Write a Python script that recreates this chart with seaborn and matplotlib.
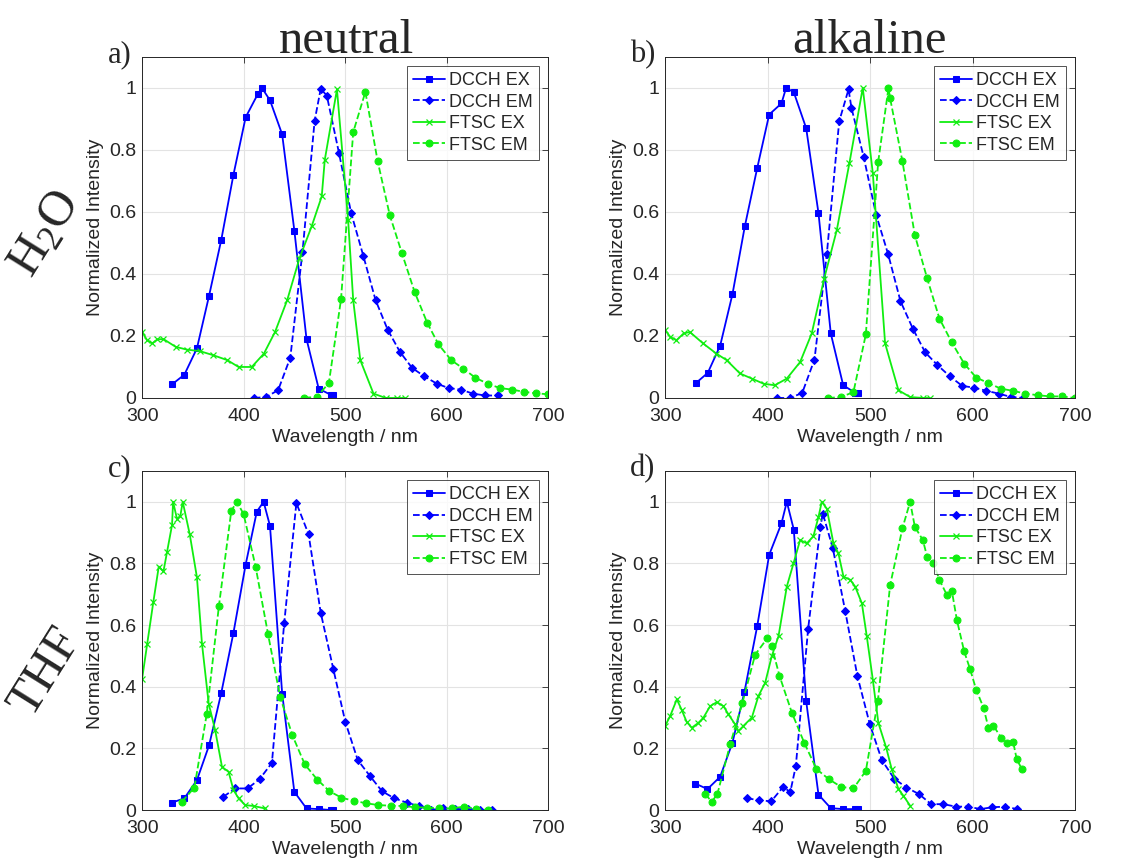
import numpy as np
import pandas as pd
import seaborn as sns
import matplotlib.pyplot as plt

# ---- data (wavelength nm, normalized intensity) ----
# panel a) H2O neutral
a_dcch_ex_x = [329.5, 341.6, 354, 366, 378, 390, 402, 414, 418, 426, 438, 450, 462, 474, 486, 488]
a_dcch_ex_y = [0.044, 0.075, 0.16, 0.33, 0.51, 0.72, 0.905, 0.98, 1.0, 0.96, 0.85, 0.54, 0.19, 0.03, 0.01, 0.008]
a_dcch_em_x = [410, 422, 434, 446, 458, 470, 476, 482, 494, 506, 518, 530, 542, 554, 566, 578, 590.5, 602, 614, 626, 638, 650.5]
a_dcch_em_y = [0, 0.003, 0.025, 0.13, 0.47, 0.894, 0.997, 0.975, 0.79, 0.596, 0.458, 0.316, 0.22, 0.149, 0.097, 0.07, 0.046, 0.032, 0.027, 0.014, 0.008, 0.008]
a_ftsc_ex_x = [300, 305, 310, 315, 321, 333, 344, 357, 370, 384, 395, 408, 420, 431, 443, 455, 467, 477, 480, 492, 503, 508, 515, 528, 540, 551, 559]
a_ftsc_ex_y = [0.213, 0.186, 0.176, 0.189, 0.19, 0.165, 0.156, 0.151, 0.138, 0.122, 0.10, 0.10, 0.143, 0.213, 0.316, 0.45, 0.553, 0.65, 0.768, 0.995, 0.574, 0.316, 0.122, 0.014, 0, 0, 0]
a_ftsc_em_x = [460, 472, 484, 496, 508, 520, 532, 544, 556, 568.5, 581, 592, 604.6, 616.4, 628.5, 640.6, 652.5, 664.6, 676, 688, 700]
a_ftsc_em_y = [0.001, 0.003, 0.048, 0.318, 0.857, 0.987, 0.765, 0.59, 0.467, 0.342, 0.242, 0.173, 0.122, 0.095, 0.065, 0.046, 0.032, 0.027, 0.02, 0.015, 0.012]

# panel b) H2O alkaline
b_dcch_ex_x = [330, 341.6, 353.7, 365.7, 377.7, 389.8, 401.5, 413.5, 418, 425.5, 437.6, 449.6, 461.6, 473.7, 485.7, 488]
b_dcch_ex_y = [0.048, 0.081, 0.169, 0.335, 0.553, 0.741, 0.914, 0.95, 1.0, 0.986, 0.87, 0.596, 0.208, 0.041, 0.016, 0.015]
b_dcch_em_x = [409.6, 421.6, 433.7, 445.7, 457.7, 469.8, 478.9, 481.8, 493.8, 505.9, 517.6, 529.6, 541.6, 553.7, 565.7, 577.7, 589.8, 601.8, 613.5, 625.5, 637.6, 649.6]
b_dcch_em_y = [0, 0, 0.016, 0.124, 0.463, 0.892, 0.995, 0.935, 0.776, 0.59, 0.463, 0.312, 0.224, 0.147, 0.106, 0.07, 0.039, 0.033, 0.023, 0.014, 0.003, 0]
b_ftsc_ex_x = [300, 305, 311, 318, 324, 337, 350, 360, 373, 384.6, 396, 407, 418.7, 431.7, 443, 455, 467.5, 479.8, 492.8, 502.6, 514.6, 527.6, 539, 552, 558]
b_ftsc_ex_y = [0.219, 0.197, 0.186, 0.208, 0.213, 0.176, 0.143, 0.122, 0.079, 0.0625, 0.046, 0.041, 0.0625, 0.116, 0.208, 0.383, 0.542, 0.758, 1.0, 0.725, 0.176, 0.025, 0.003, 0, 0]
b_ftsc_em_x = [459, 471.7, 483.7, 495.8, 507.8, 517.9, 519.5, 531.5, 543.6, 555.6, 567.6, 579.7, 591.7, 603.4, 615.4, 627.5, 639.5, 651.5, 663.6, 675.6, 687.6, 699.7]
b_ftsc_em_y = [0, 0.003, 0.019, 0.205, 0.76, 1.0, 0.966, 0.763, 0.525, 0.386, 0.256, 0.179, 0.111, 0.066, 0.048, 0.03, 0.023, 0.014, 0.009, 0.005, 0.005, 0.0]

# panel c) THF neutral
c_dcch_ex_x = [329.5, 341.6, 354, 366, 378, 390, 402, 413, 419.7, 426, 438, 450, 462, 474, 486, 488]
c_dcch_ex_y = [0.024, 0.038, 0.097, 0.21, 0.38, 0.575, 0.796, 0.968, 1.0, 0.922, 0.378, 0.059, 0.005, 0.003, 0, 0]
c_dcch_em_x = [380, 391.8, 403.9, 415.7, 427.9, 440, 452, 464, 476, 488.5, 500.3, 512.5, 524.6, 536.4, 548.5, 560.7, 572.5, 584.6, 596.7, 608.5, 620.7, 632.8, 645]
c_dcch_em_y = [0.043, 0.07, 0.07, 0.1, 0.153, 0.606, 0.996, 0.895, 0.64, 0.456, 0.285, 0.162, 0.11, 0.061, 0.038, 0.024, 0.013, 0, 0.005, 0.003, 0.003, 0, 0]
c_ftsc_ex_x = [300, 305, 311, 316.4, 321, 324.6, 329.5, 330.5, 334.4, 337.7, 340, 346.9, 354, 359, 365.6, 372, 378.7, 385.2, 390, 395, 401.6, 409.8, 421.3]
c_ftsc_ex_y = [0.426, 0.539, 0.674, 0.79, 0.774, 0.838, 0.925, 1.0, 0.944, 0.955, 1.0, 0.895, 0.755, 0.539, 0.345, 0.259, 0.14, 0.124, 0.065, 0.038, 0.016, 0.013, 0.005]
c_ftsc_em_x = [339.3, 351.5, 363.6, 375.7, 387.9, 393.4, 400, 411.8, 424, 436, 448, 460.3, 472.5, 484.6, 496.4, 508.5, 520.7, 532.8, 545, 556.7, 568.9, 581, 593, 605, 617, 629, 641]
c_ftsc_em_y = [0.027, 0.073, 0.31, 0.663, 0.971, 1.0, 0.96, 0.79, 0.572, 0.367, 0.243, 0.148, 0.099, 0.061, 0.04, 0.03, 0.022, 0.016, 0.014, 0.013, 0.009, 0.008, 0.005, 0.005, 0.011, 0.003, 0]

# panel d) THF alkaline
d_dcch_ex_x = [329.3, 341.3, 353.7, 365.7, 377.4, 389.8, 401.5, 413.5, 418.7, 425.5, 437.6, 449.6, 461.6, 473.7, 485.7, 488]
d_dcch_ex_y = [0.086, 0.068, 0.108, 0.219, 0.384, 0.596, 0.828, 0.93, 1.0, 0.91, 0.353, 0.05, 0.006, 0.003, 0.003, 0.003]
d_dcch_em_x = [379.7, 391.7, 403.4, 415.4, 422, 427.5, 439.5, 451.5, 453.8, 463.6, 475.6, 487.6, 499.7, 511.4, 523.4, 535.4, 547.5, 559.5, 571.5, 583.6, 595.6, 607.6, 619.3, 631.4, 643.4]
d_dcch_em_y = [0.038, 0.032, 0.028, 0.076, 0.057, 0.143, 0.588, 0.919, 0.962, 0.849, 0.647, 0.434, 0.278, 0.162, 0.102, 0.073, 0.052, 0.019, 0.019, 0.011, 0.011, 0.003, 0.009, 0.011, 0.003]
d_ftsc_ex_x = [300, 304.9, 311.4, 316, 321, 326, 332.5, 337.4, 343.9, 350.4, 356.9, 361.8, 368.3, 371.5, 376.4, 384.6, 391, 397.6, 404, 410.6, 418.7, 425.2, 431.7, 438.2, 444.7, 449.6, 452.8, 457.7, 464.2, 469, 474, 480.5, 485.4, 491.9, 496.7, 502.6, 508, 515.6, 521, 527.6, 532.5, 539]
d_ftsc_ex_y = [0.273, 0.305, 0.359, 0.326, 0.286, 0.267, 0.283, 0.3, 0.337, 0.35, 0.337, 0.31, 0.278, 0.256, 0.273, 0.3, 0.37, 0.413, 0.499, 0.564, 0.725, 0.8, 0.876, 0.865, 0.889, 0.951, 1.0, 0.978, 0.865, 0.833, 0.757, 0.747, 0.725, 0.671, 0.564, 0.423, 0.283, 0.203, 0.133, 0.068, 0.046, 0.014]
d_ftsc_em_x = [339, 345.5, 351, 363.4, 375.4, 387.8, 399.8, 404, 411.5, 423.6, 435.6, 447.6, 459.7, 471.7, 483.7, 495.8, 507.5, 519.5, 531.5, 539, 543.6, 551.4, 555.6, 561.8, 567.6, 574.8, 579.7, 584.6, 591.7, 597.6, 603.4, 610.6, 615.4, 620.3, 627.8, 633.3, 639.5, 643, 648]
d_ftsc_em_y = [0.052, 0.027, 0.052, 0.213, 0.348, 0.504, 0.558, 0.531, 0.436, 0.316, 0.219, 0.133, 0.1, 0.075, 0.07, 0.127, 0.353, 0.73, 0.914, 1.0, 0.919, 0.876, 0.822, 0.8, 0.747, 0.698, 0.711, 0.617, 0.515, 0.456, 0.391, 0.332, 0.267, 0.273, 0.235, 0.219, 0.221, 0.165, 0.133]

series_names = ['DCCH EX', 'DCCH EM', 'FTSC EX', 'FTSC EM']
panel_letters = ['a)', 'b)', 'c)', 'd)']
col_titles = ['neutral', 'alkaline']
row_titles = ['H$\\mathrm{_2}$O', 'THF']
x_ticks = [300, 400, 500, 600, 700]
y_ticks = [0, 0.2, 0.4, 0.6, 0.8, 1.0]
y_ticklabels = ['0', '0.2', '0.4', '0.6', '0.8', '1']

panels = [
    [(a_dcch_ex_x, a_dcch_ex_y), (a_dcch_em_x, a_dcch_em_y), (a_ftsc_ex_x, a_ftsc_ex_y), (a_ftsc_em_x, a_ftsc_em_y)],
    [(b_dcch_ex_x, b_dcch_ex_y), (b_dcch_em_x, b_dcch_em_y), (b_ftsc_ex_x, b_ftsc_ex_y), (b_ftsc_em_x, b_ftsc_em_y)],
    [(c_dcch_ex_x, c_dcch_ex_y), (c_dcch_em_x, c_dcch_em_y), (c_ftsc_ex_x, c_ftsc_ex_y), (c_ftsc_em_x, c_ftsc_em_y)],
    [(d_dcch_ex_x, d_dcch_ex_y), (d_dcch_em_x, d_dcch_em_y), (d_ftsc_ex_x, d_ftsc_ex_y), (d_ftsc_em_x, d_ftsc_em_y)],
]

BLUE = '#0000ff'
GREEN = '#10ee10'
styles = [
    dict(color=BLUE, linestyle='-', marker='s', markersize=4),
    dict(color=BLUE, linestyle='--', marker='D', markersize=4),
    dict(color=GREEN, linestyle='-', marker='x', markersize=4, markeredgewidth=0.9),
    dict(color=GREEN, linestyle='--', marker='o', markersize=5),
]

sns.set_theme(style='white')
plt.rcParams['font.family'] = ['Liberation Sans', 'DejaVu Sans']
plt.rcParams['mathtext.fontset'] = 'custom'
plt.rcParams['mathtext.rm'] = 'Liberation Serif'
plt.rcParams['axes.edgecolor'] = '#262626'
plt.rcParams['xtick.direction'] = 'in'
plt.rcParams['ytick.direction'] = 'in'

fig = plt.figure(figsize=(11.37, 8.68), dpi=100)
ax_pos = [
    [0.125, 0.5415, 0.357, 0.393],
    [0.585, 0.5415, 0.3606, 0.393],
    [0.125, 0.0668, 0.357, 0.3906],
    [0.585, 0.0668, 0.3606, 0.3906],
]

for i, pos in enumerate(ax_pos):
    ax = fig.add_axes(pos)
    for (xs, ys), name, st in zip(panels[i], series_names, styles):
        sns.lineplot(x=xs, y=ys, ax=ax, sort=False, estimator=None, label=name,
                     linewidth=1.3, markeredgecolor=st['color'], **st)
    ax.set_xlim(300, 700)
    ax.set_ylim(0, 1.1)
    ax.set_xticks(x_ticks)
    ax.set_yticks(y_ticks)
    ax.set_yticklabels(y_ticklabels)
    ax.grid(True, color='#e3e3e3', linewidth=0.8)
    ax.set_axisbelow(True)
    ax.tick_params(labelsize=14, colors='#262626', length=4, width=0.6,
                   top=True, right=True)
    ax.tick_params(axis='x', pad=7)
    ax.tick_params(axis='y', pad=4)
    for sp in ax.spines.values():
        sp.set_linewidth(0.7)
        sp.set_color('#262626')
    ax.set_xlabel('Wavelength / nm', fontsize=14, color='#262626', labelpad=3)
    ax.set_ylabel('Normalized Intensity', fontsize=14, color='#262626', labelpad=4)
    leg = ax.legend(loc='upper right', fontsize=13, frameon=True, fancybox=False,
                    handlelength=1.8, handletextpad=0.2, borderpad=0.35,
                    labelspacing=0.25, borderaxespad=0.5)
    leg.get_frame().set_edgecolor('#262626')
    leg.get_frame().set_linewidth(0.7)
    ax.text(-0.085, 0.965, panel_letters[i], transform=ax.transAxes,
            fontsize=22, family='Liberation Serif', ha='left', va='bottom')

for j, t in enumerate(col_titles):
    fig.text([0.305, 0.765][j], 0.953, t, fontsize=35, family='Liberation Serif',
             ha='center', va='center')

for k, t in enumerate(row_titles):
    fig.text(0.04, [0.73, 0.225][k], t, fontsize=36, family='Liberation Serif',
             ha='center', va='center', rotation=58)

fig.savefig('out.png', dpi=100)
